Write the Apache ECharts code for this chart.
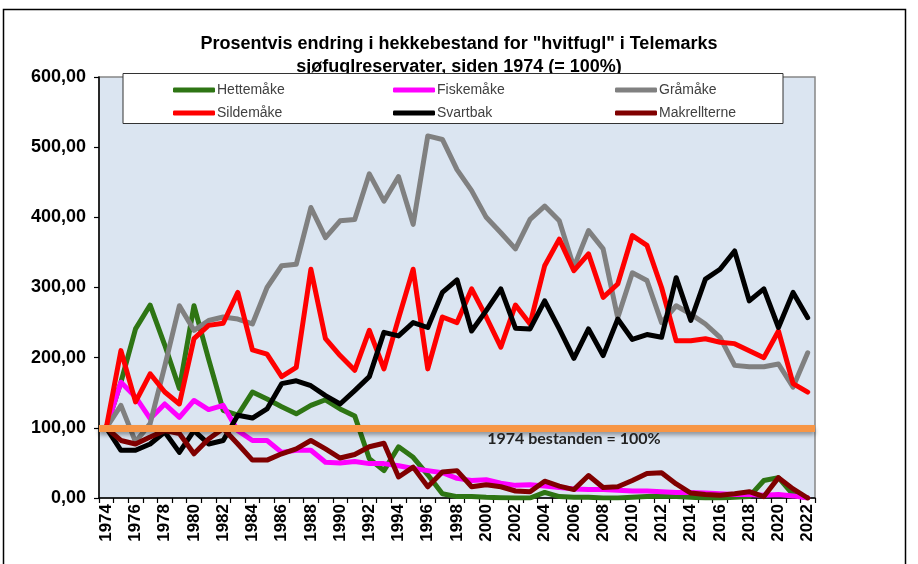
<!DOCTYPE html>
<html><head><meta charset="utf-8">
<script src="https://cdn.jsdelivr.net/npm/echarts@6/dist/echarts.min.js"></script>
<style>html,body{margin:0;padding:0;background:#fff}#c{width:918px;height:564px}</style>
</head><body><div id="c"></div>
<script>
const years = ['1974','1975','1976','1977','1978','1979','1980','1981','1982','1983','1984','1985','1986','1987','1988','1989','1990','1991','1992','1993','1994','1995','1996','1997','1998','1999','2000','2001','2002','2003','2004','2005','2006','2007','2008','2009','2010','2011','2012','2013','2014','2015','2016','2017','2018','2019','2020','2021','2022'];
const hettemake = [100,165,241,275,218,156,274,198,125,118,151,141,130,120,132,140,127,117,56,39,73,58,33,6,2,2,1,0.5,0,0,8,2,1,1,0,0,1,2,3,2,1,0,0,1,2,25,29,5,0];
const fiskemake = [100,165,144,113,134,115,139,126,132,96,82,82,65,68,68,51,50,52,49,49,46,42,39,36,28,25,26,21,18,19,17,15,13,12,12,11,10,10,9,8,8,7,6,5,5,4,5,3,0];
const gramake = [100,132,80,106,188,274,239,253,258,255,248,300,331,333,414,371,395,397,462,423,458,390,516,511,468,438,400,378,355,397,416,395,329,381,355,257,321,310,250,274,262,248,229,189,187,187,191,158,207];
const sildemake = [100,210,137,177,151,134,227,246,249,293,211,205,173,186,326,227,203,182,239,184,256,326,184,258,250,298,258,215,275,248,331,369,324,348,286,305,374,360,300,224,224,227,222,220,210,200,238,163,151];
const svartbak = [100,68,68,77,94,65,96,77,82,118,114,127,163,167,160,146,134,153,173,236,231,250,243,293,311,238,267,298,242,241,281,241,199,241,203,255,226,233,229,314,253,312,326,352,281,298,243,293,257];
const makrellterne = [100,82,77,87,96,92,63,84,99,77,54,54,63,70,82,70,57,62,73,78,30,44,16,37,39,16,19,16,10,9,24,17,12,32,15,16,25,35,36,20,7,5,4,6,9,2,29,13,0];
const seriesNames = ['Hettemåke','Fiskemåke','Gråmåke','Sildemåke','Svartbak','Makrellterne'];
const seriesColors = ['#2e7514','#ff00ff','#808080','#ff0000','#000000','#800000'];
const seriesData = [hettemake,fiskemake,gramake,sildemake,svartbak,makrellterne];
const baseValue = 100;
const baseLabel = '1974 bestanden = 100%';
const titleText = 'Prosentvis endring i hekkebestand for "hvitfugl" i Telemarks\nsjøfuglreservater, siden 1974 (= 100%)';

const FONT = '"Liberation Sans", Arial, sans-serif';
const chart = echarts.init(document.getElementById('c'));

const series = seriesNames.map((n, i) => ({
  name: n, type: 'line', data: seriesData[i], symbol: 'none', smooth: false,
  lineStyle: { color: seriesColors[i], width: 5, join: 'round', cap: 'round' },
  itemStyle: { color: seriesColors[i] }, z: 2 + i * 0.01
}));
series.push({
  name: 'base', type: 'line', data: [], z: 5, silent: true,
  markLine: {
    silent: true, symbol: ['none', 'none'], label: { show: false },
    lineStyle: { color: '#f79646', width: 7, type: 'solid', shadowColor: 'rgba(0,0,0,0.35)', shadowBlur: 4, shadowOffsetY: 3 },
    data: [{ yAxis: baseValue }], animation: false
  }
});

function legendAt(left, names) {
  return {
    show: true, orient: 'vertical', left: left, top: 77, itemGap: 7,
    itemWidth: 42, itemHeight: 5, icon: 'roundRect', data: names, selectedMode: false,
    textStyle: { fontFamily: FONT, fontSize: 14, color: '#404040', lineHeight: 16, padding: [0, 0, 0, -3] }
  };
}

function graphics(extra) {
  return [
    { type: 'rect', z: 0, silent: true, shape: { x: 3.5, y: 9.5, width: 902, height: 600 }, style: { fill: 'none', stroke: '#000', lineWidth: 1.5 } },
    { type: 'text', z: 1, silent: true, x: 459, y: 33, style: { text: titleText, font: 'bold 18px ' + FONT, textAlign: 'center', lineHeight: 23, fill: '#000' } },
    { type: 'rect', z: 3, silent: true, shape: { x: 123, y: 73.5, width: 660, height: 50 }, style: { fill: '#fff', stroke: '#333', lineWidth: 1 } }
  ].concat(extra || []);
}

chart.setOption({
  animation: false,
  backgroundColor: '#ffffff',
  grid: { left: 99, right: 103, top: 77, bottom: 66, show: true, backgroundColor: '#dbe5f1', borderColor: '#868686', borderWidth: 1.5 },
  legend: [legendAt(168, ['Hettemåke', 'Sildemåke']), legendAt(388, ['Fiskemåke', 'Svartbak']), legendAt(610, ['Gråmåke', 'Makrellterne'])],
  xAxis: {
    type: 'category', data: years, boundaryGap: true,
    axisLine: { show: true, lineStyle: { color: '#000', width: 1.5 } },
    axisTick: { show: true, interval: 0, length: 5, alignWithLabel: false, lineStyle: { color: '#000', width: 1.2 } },
    axisLabel: { interval: 1, rotate: 90, fontFamily: FONT, fontSize: 17, fontWeight: 'bold', color: '#000', margin: 6 },
    splitLine: { show: false }
  },
  yAxis: {
    type: 'value', min: 0, max: 600, interval: 100,
    axisLine: { show: true, lineStyle: { color: '#000', width: 1.5 } },
    axisTick: { show: true, length: 5, lineStyle: { color: '#000', width: 1.2 } },
    axisLabel: { fontFamily: FONT, fontSize: 18, fontWeight: 'bold', color: '#000', margin: 13,
      formatter: v => v.toFixed(2).replace('.', ',') },
    splitLine: { show: false }
  },
  graphic: graphics(),
  series: series
});

const py = chart.convertToPixel({ yAxisIndex: 0 }, baseValue);
const px = chart.convertToPixel({ xAxisIndex: 0 }, '2000');
chart.setOption({
  graphic: graphics([
    { type: 'text', z: 6, silent: true, x: px + 1, y: py + 11, style: { text: baseLabel, font: 'bold 16px Lato, "Open Sans", sans-serif', textAlign: 'left', textVerticalAlign: 'middle', fill: '#222' } }
  ])
});
</script></body></html>
